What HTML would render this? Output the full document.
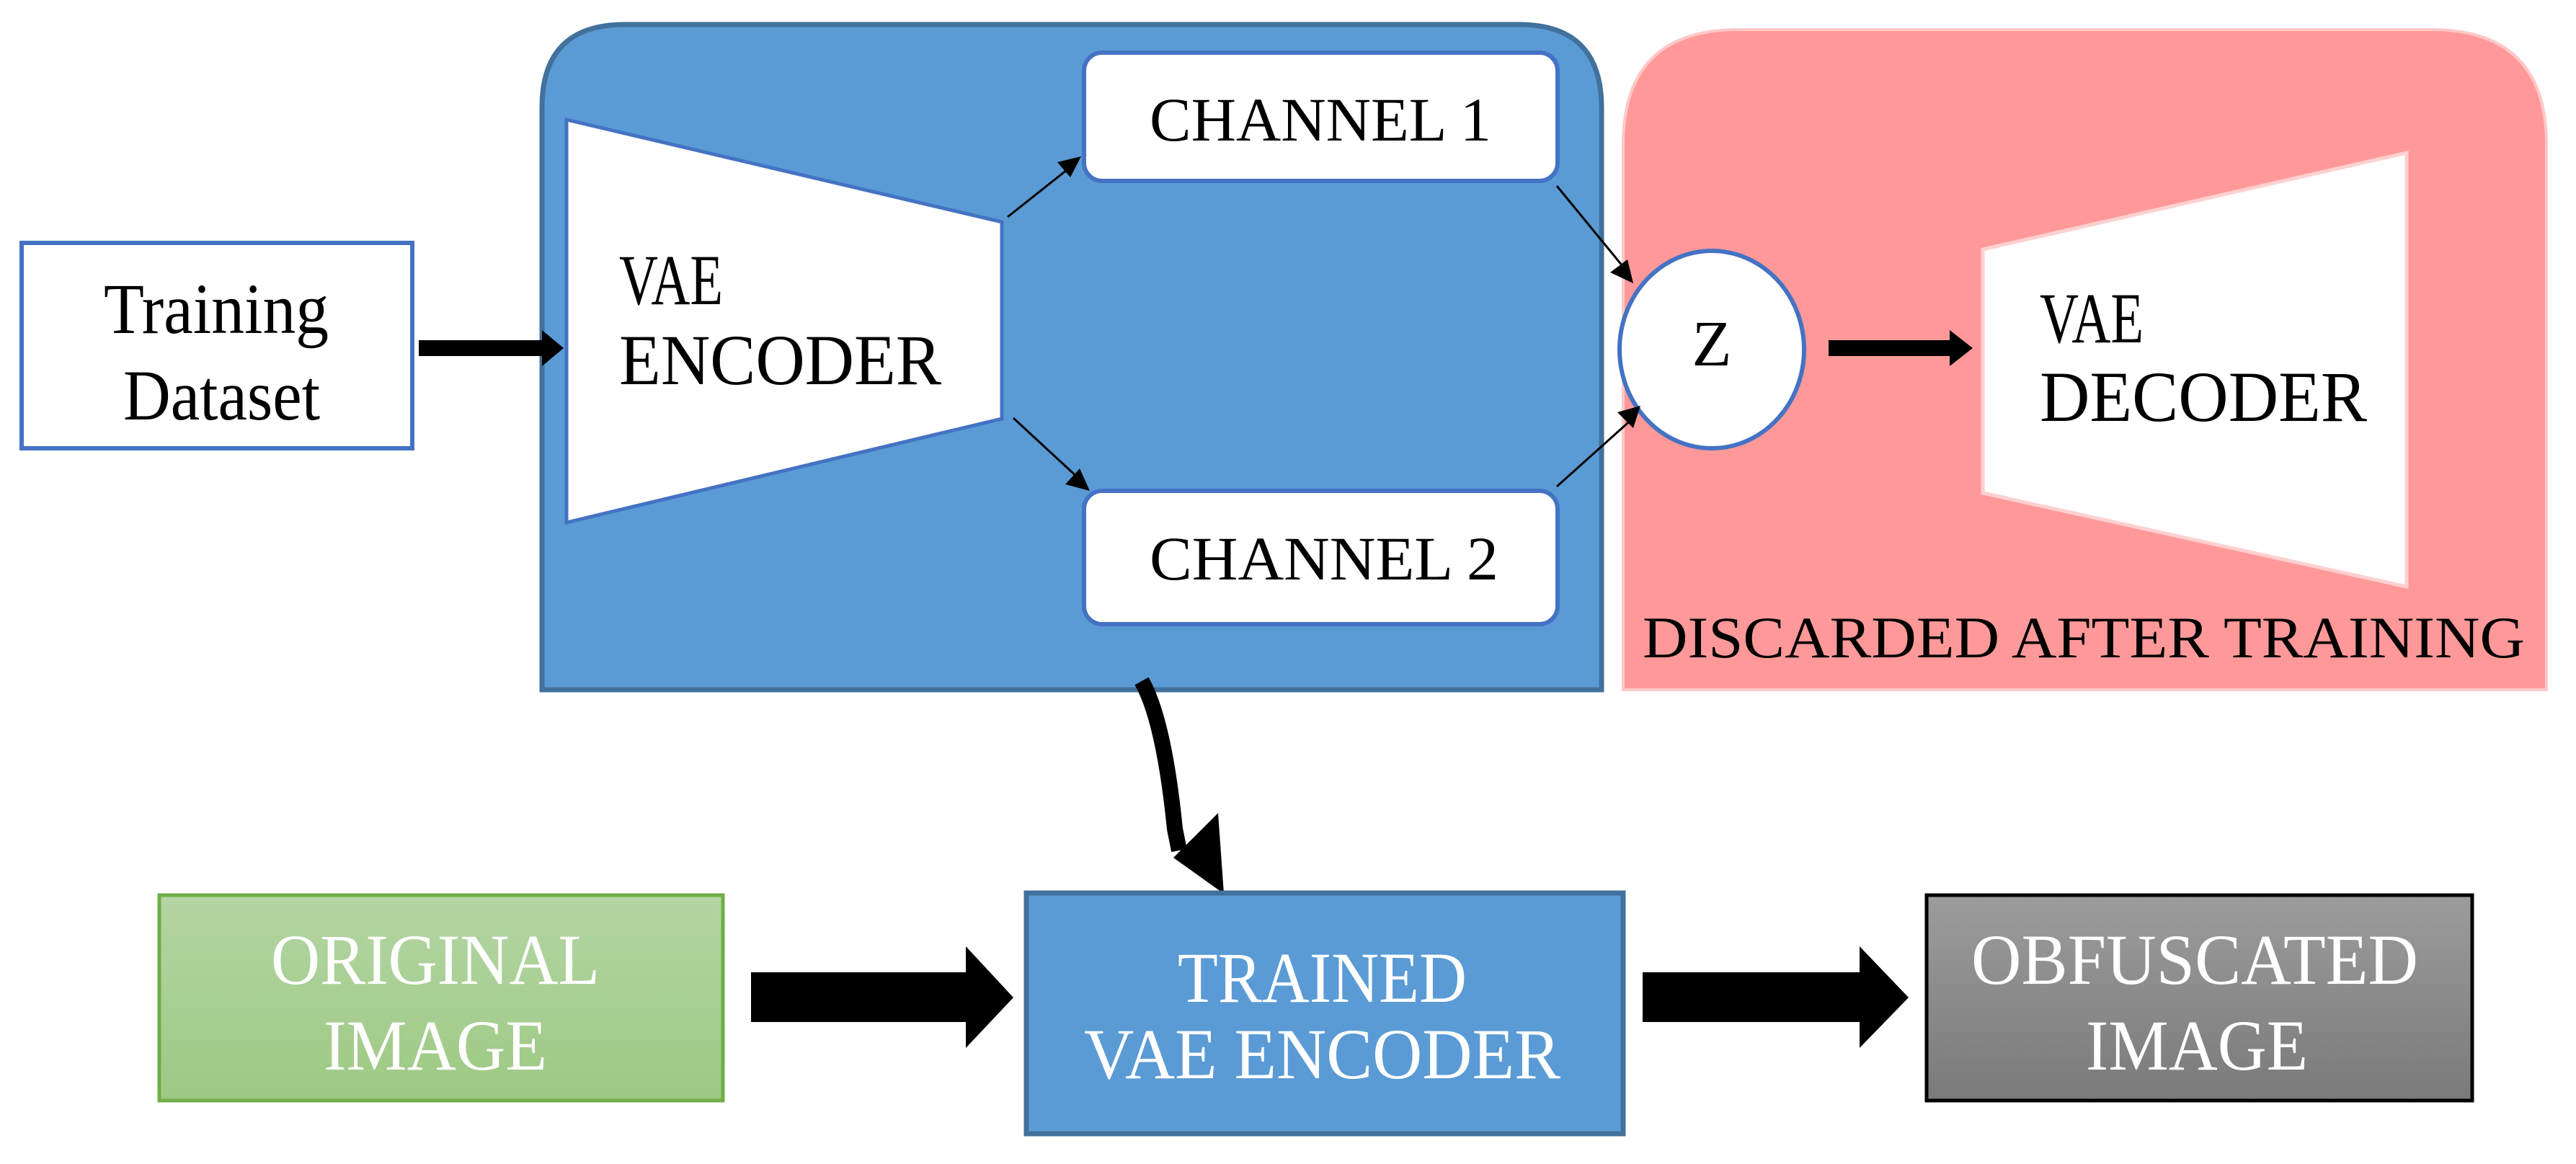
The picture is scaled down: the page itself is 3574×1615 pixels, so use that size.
<!DOCTYPE html>
<html><head><meta charset="utf-8"><style>
html,body{margin:0;padding:0;background:#fff;}
svg{display:block;}
text{font-family:"Liberation Serif","Times New Roman",serif;}
</style></head><body>
<svg width="3574" height="1615" viewBox="0 0 3574 1615" xmlns="http://www.w3.org/2000/svg">
<defs>
<linearGradient id="gg" x1="0" y1="0" x2="0" y2="1"><stop offset="0" stop-color="#b4d5a4"/><stop offset="1" stop-color="#9dc983"/></linearGradient>
<linearGradient id="gr" x1="0" y1="0" x2="0" y2="1"><stop offset="0" stop-color="#9c9c9c"/><stop offset="1" stop-color="#7a7a7a"/></linearGradient>
</defs>
<path d="M2252,957 L2252,201 Q2252,41 2412,41 L3373,41 Q3533,41 3533,201 L3533,957 Z" fill="#ff9999" stroke="#ffc8c8" stroke-width="4"/>
<path d="M752,957 L752,149 Q752,34 867,34 L2107,34 Q2222,34 2222,149 L2222,957 Z" fill="#5b9bd5" stroke="#41719c" stroke-width="7"/>
<rect x="30" y="337" width="542" height="285" fill="#fff" stroke="#4472c4" stroke-width="6"/>
<text x="144" y="462" font-size="100" textLength="312" lengthAdjust="spacingAndGlyphs">Training</text>
<text x="171" y="582" font-size="100" textLength="273" lengthAdjust="spacingAndGlyphs">Dataset</text>
<polygon points="786,166 1390,308 1390,581 786,725" fill="#fff" stroke="#4472c4" stroke-width="5"/>
<text x="859" y="422" font-size="100" textLength="144" lengthAdjust="spacingAndGlyphs">VAE</text>
<text x="859" y="533" font-size="100" textLength="447" lengthAdjust="spacingAndGlyphs">ENCODER</text>
<rect x="1504" y="73" width="657" height="178" rx="25" fill="#fff" stroke="#4472c4" stroke-width="6"/>
<text x="1595" y="195" font-size="86" textLength="474" lengthAdjust="spacingAndGlyphs">CHANNEL  1</text>
<rect x="1504" y="681" width="657" height="185" rx="25" fill="#fff" stroke="#4472c4" stroke-width="6"/>
<text x="1595" y="804" font-size="86" textLength="484" lengthAdjust="spacingAndGlyphs">CHANNEL  2</text>
<polygon points="2751,346 3339,212 3339,814 2751,684" fill="#fff" stroke="#ffd0d0" stroke-width="5"/>
<text x="2830" y="475" font-size="100" textLength="144" lengthAdjust="spacingAndGlyphs">VAE</text>
<text x="2830" y="584" font-size="100" textLength="454" lengthAdjust="spacingAndGlyphs">DECODER</text>
<ellipse cx="2375" cy="485" rx="128" ry="137" fill="#fff" stroke="#4472c4" stroke-width="6"/>
<text x="2375" y="507" font-size="90" text-anchor="middle">Z</text>
<text x="2279" y="912" font-size="82" textLength="1224" lengthAdjust="spacingAndGlyphs">DISCARDED  AFTER  TRAINING</text>
<g stroke="#000" stroke-width="3" fill="#000">
<line x1="1398" y1="301" x2="1485" y2="232"/>
<line x1="1406" y1="580" x2="1498" y2="665"/>
<line x1="2160" y1="258" x2="2256" y2="375"/>
<line x1="2160" y1="675" x2="2266" y2="580"/>
</g>
<polygon points="1500,217 1467,225 1485,246" fill="#000"/>
<polygon points="1512,681 1478,672 1498,650" fill="#000"/>
<polygon points="2266,393 2234,378 2258,360" fill="#000"/>
<polygon points="2276,563 2244,572 2266,594" fill="#000"/>
<rect x="581" y="472" width="175" height="22" fill="#000"/>
<polygon points="752,458 782,483 752,508" fill="#000"/>
<rect x="2537" y="472" width="172" height="22" fill="#000"/>
<polygon points="2705,458 2737,483 2705,508" fill="#000"/>
<path d="M1584,945 Q1615,1000 1630,1150 L1636,1180" stroke="#000" stroke-width="22" fill="none"/>
<polygon points="1628,1190 1690,1128 1698,1240" fill="#000"/>
<rect x="221" y="1242" width="782" height="285" fill="url(#gg)" stroke="#70ad47" stroke-width="5"/>
<text x="376" y="1365" font-size="100" fill="#fff" textLength="456" lengthAdjust="spacingAndGlyphs">ORIGINAL</text>
<text x="449" y="1484" font-size="100" fill="#fff" textLength="310" lengthAdjust="spacingAndGlyphs">IMAGE</text>
<rect x="1424" y="1239" width="828" height="334" fill="#5b9bd5" stroke="#41719c" stroke-width="7"/>
<text x="1634" y="1390" font-size="100" fill="#fff" textLength="401" lengthAdjust="spacingAndGlyphs">TRAINED</text>
<text x="1504" y="1496" font-size="100" fill="#fff" textLength="661" lengthAdjust="spacingAndGlyphs">VAE ENCODER</text>
<rect x="2673" y="1242" width="757" height="285" fill="url(#gr)" stroke="#000" stroke-width="5"/>
<text x="2735" y="1365" font-size="100" fill="#fff" textLength="620" lengthAdjust="spacingAndGlyphs">OBFUSCATED</text>
<text x="2894" y="1484" font-size="100" fill="#fff" textLength="308" lengthAdjust="spacingAndGlyphs">IMAGE</text>
<rect x="1042" y="1349" width="300" height="69" fill="#000"/>
<polygon points="1340,1313 1406,1384 1340,1454" fill="#000"/>
<rect x="2279" y="1349" width="303" height="69" fill="#000"/>
<polygon points="2580,1313 2648,1384 2580,1454" fill="#000"/>
</svg>
</body></html>
